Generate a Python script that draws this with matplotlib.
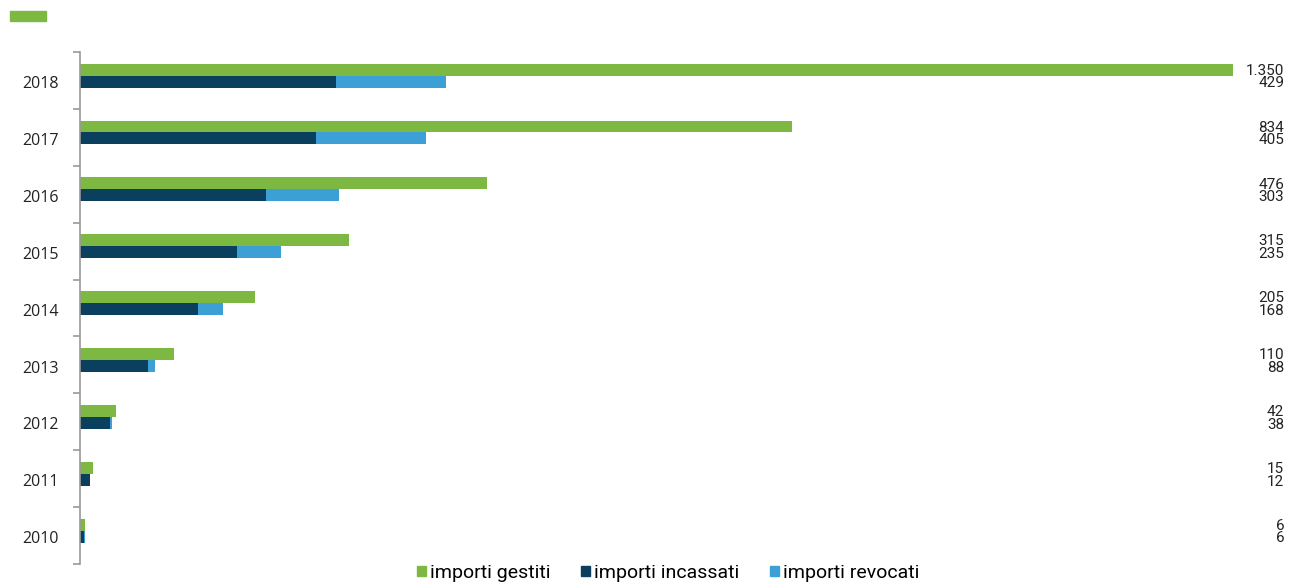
import numpy as np
import matplotlib.pyplot as plt
import matplotlib.patches as mpatches

years = ['2010', '2011', '2012', '2013', '2014', '2015', '2016', '2017', '2018']
gestiti = [6, 15, 42, 110, 205, 315, 476, 834, 1350]
incassati = [4.5, 11.5, 35, 80, 138, 184, 218, 276, 300]
revocati = [1.5, 0.5, 3, 8, 30, 51, 85, 129, 129]
label_top = ['6', '15', '42', '110', '205', '315', '476', '834', '1.350']
label_bot = ['6', '12', '38', '88', '168', '235', '303', '405', '429']

green = '#7DB843'
navy = '#0B3F5E'
blue = '#3C9FD6'

fig = plt.figure(figsize=(12.89, 5.82), dpi=100)
ax = fig.add_axes([80/1289, 1 - 564/582, (1233 - 80)/1289, (564 - 52)/582])

y = np.arange(len(years))
h = 0.21
ax.barh(y + 0.19, gestiti, height=h, color=green)
ax.barh(y - 0.02, incassati, height=h, color=navy)
ax.barh(y - 0.02, revocati, left=incassati, height=h, color=blue)

ax.set_xlim(0, 1350)
ax.set_ylim(-0.5, len(years) - 0.5)
ax.set_xticks([])
ax.set_yticks(y - 0.03)
ax.set_yticklabels(years, fontsize=11.5, fontfamily='Open Sans', color='#222222')
ax.tick_params(axis='y', which='major', length=0, pad=15.5)
ax.set_yticks(np.arange(-0.5, len(years)), minor=True)
ax.tick_params(axis='y', which='minor', length=5, color='#999999', width=1.2)
for s in ['top', 'right', 'bottom']:
    ax.spines[s].set_visible(False)
ax.spines['left'].set_color('#999999')
ax.spines['left'].set_linewidth(1.2)

# value labels on the right
tr = ax.get_yaxis_transform()
for i in range(len(years)):
    ax.text(1.0445, y[i] + 0.17, label_top[i], transform=tr, ha='right', va='center',
            fontsize=11, fontfamily='Roboto', color='#222222', clip_on=False)
    ax.text(1.0445, y[i] - 0.05, label_bot[i], transform=tr, ha='right', va='center',
            fontsize=11, fontfamily='Roboto', color='#222222', clip_on=False)

handles = [mpatches.Patch(color=green, label='importi gestiti'),
           mpatches.Patch(color=navy, label='importi incassati'),
           mpatches.Patch(color=blue, label='importi revocati')]
leg = fig.legend(handles=handles, loc='center', bbox_to_anchor=(668/1289, 1 - 573/582),
                 ncol=3, frameon=False, handlelength=0.45, handleheight=0.45,
                 handletextpad=0.2, columnspacing=1.6,
                 prop={'family': 'Roboto', 'size': 14})

# small green marker at the top left
fig.patches.append(mpatches.Rectangle((10/1289, 1 - 21/582), 36/1289, 10/582,
                                      transform=fig.transFigure, color=green))

fig.savefig('out.png', dpi=100)
